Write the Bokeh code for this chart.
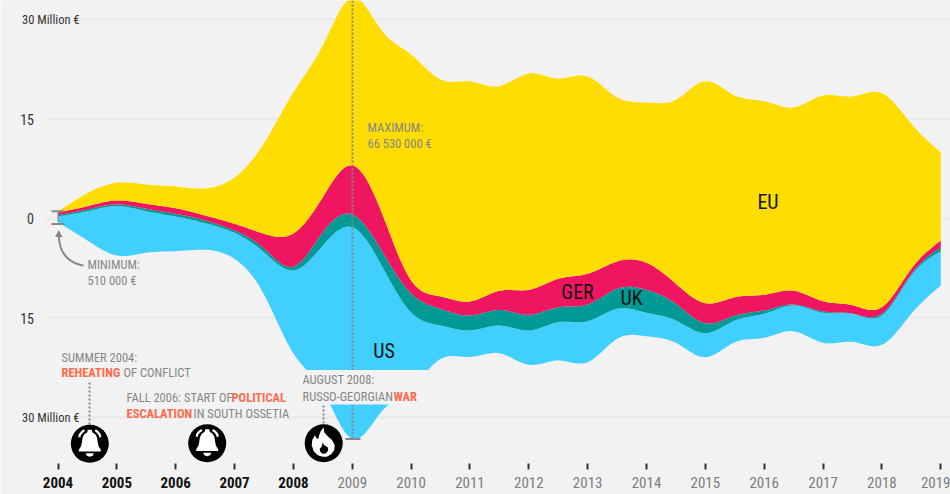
from bokeh.plotting import figure
from bokeh.embed import file_html
from bokeh.resources import INLINE
from bokeh.core.properties import value
from bokeh.models import FixedTicker, LinearAxis
import numpy as np

W, H = 950, 494
X0, PX_YEAR = 57.5, 58.85
Y0, PX_M = 218.0, 6.63
AXIS_PY = 469

years = [2004 + i * 0.5 for i in range(31)]
baseline = [-0.60,-3.32,-5.58,-5.17,-4.93,-4.72,-6.08,-11.46,-20.36,-25.94,-33.26,-29.11,-25.64,-21.19,-20.89,-20.32,
            -22.07,-21.42,-21.67,-18.14,-17.75,-18.75,-20.92,-18.66,-17.99,-17.00,-18.75,-18.60,-19.05,-14.37,-10.11]
us = [0.90,4.42,7.44,6.27,5.23,4.01,3.92,6.38,12.52,21.87,31.95,22.02,11.46,5.05,4.00,4.18,
      5.17,5.78,6.18,4.52,3.53,3.36,3.62,3.27,3.62,3.88,4.52,4.22,4.42,5.78,5.17]
uk = [0.23,0.26,0.26,0.36,0.41,0.41,0.35,0.56,0.60,2.01,1.92,2.26,2.87,2.52,2.26,2.34,
      2.37,2.26,2.52,3.02,3.47,2.52,1.51,0.75,0.50,0.15,0.20,0.05,0.26,0.26,0.60]
ger = [0.38,0.50,0.60,0.75,0.84,0.75,1.01,2.22,4.98,5.28,7.39,5.73,1.96,1.86,2.11,2.90,
       3.77,4.28,4.63,4.12,4.07,3.02,3.02,2.76,2.37,2.07,1.55,1.25,1.00,0.75,1.01]
eu = [0.15,1.96,2.67,2.91,3.27,4.07,6.98,13.62,21.27,22.88,25.34,27.45,34.09,32.73,33.18,30.86,
      32.62,30.21,29.76,24.74,24.18,27.75,33.48,30.42,29.20,27.65,31.03,31.48,32.28,21.87,13.32]
bold_years = [2004, 2005, 2006, 2007, 2008]
plain_years = [2009, 2010, 2011, 2012, 2013, 2014, 2015, 2016, 2017, 2018, 2019]
grid_values = [30, 15, 0, -15, -30]

BG = "#f2f2f2"
FONT = "Roboto Condensed"
GREY = "#878787"
HOT = "#ff6b4a"


def xp(px):
    return 2004 + (np.asarray(px, dtype=float) - X0) / PX_YEAR


def yp(py):
    return (Y0 - np.asarray(py, dtype=float)) / PX_M


def smooth(xs, ys, n=14):
    """Natural cubic spline through the read values, for the stream's rounded outline."""
    xs, ys = np.asarray(xs, dtype=float), np.asarray(ys, dtype=float)
    m = len(xs)
    h = np.diff(xs)
    A = np.zeros((m, m))
    b = np.zeros(m)
    A[0, 0] = A[-1, -1] = 1
    for i in range(1, m - 1):
        A[i, i - 1], A[i, i], A[i, i + 1] = h[i - 1], 2 * (h[i - 1] + h[i]), h[i]
        b[i] = 6 * ((ys[i + 1] - ys[i]) / h[i] - (ys[i] - ys[i - 1]) / h[i - 1])
    M = np.linalg.solve(A, b)
    ox, oy = [], []
    for i in range(m - 1):
        t = np.linspace(0, 1, n, endpoint=False)
        u = 1 - t
        oy.append(u * ys[i] + t * ys[i + 1] + ((u ** 3 - u) * M[i] + (t ** 3 - t) * M[i + 1]) * h[i] ** 2 / 6)
        ox.append(xs[i] + h[i] * t)
    return np.r_[np.concatenate(ox), xs[-1]], np.r_[np.concatenate(oy), ys[-1]]


p = figure(width=W, height=H, x_range=(float(xp(0)), float(xp(W))),
           y_range=(float(yp(H)), float(yp(0))),
           output_backend="svg", toolbar_location=None,
           min_border=0, x_axis_location=None, y_axis_location=None,
           background_fill_color=BG, border_fill_color=BG,
           styles={"position": "absolute", "left": "0px", "top": "0px"})
p.outline_line_color = None
p.grid.visible = False

# two year axes, fixed inside the frame: the war-era years stand out in bold black
for ticks, col, style in [(bold_years, "#111111", "bold"), (plain_years, "#7d7d7d", "normal")]:
    ax = LinearAxis(ticker=FixedTicker(ticks=ticks), fixed_location=float(yp(AXIS_PY)))
    ax.major_label_overrides = {y: str(y) for y in ticks}
    ax.axis_line_color = None
    ax.major_tick_in = 6
    ax.major_tick_out = 0
    ax.minor_tick_line_color = None
    ax.major_tick_line_color = "#333333"
    ax.major_tick_line_width = 2
    ax.major_label_standoff = 7
    ax.major_label_text_font = FONT
    ax.major_label_text_font_size = "15px"
    ax.major_label_text_font_style = style
    ax.major_label_text_color = col
    p.add_layout(ax, "below")

# grid lines (the 30-million ones start after their longer labels)
for v in grid_values:
    start = 75 if abs(v) == 30 else 45
    p.segment(x0=[float(xp(start))], y0=[v], x1=[float(xp(W))], y1=[v], line_color="#ebebeb", line_width=3)

# the stream
edge0 = np.array(baseline)
sx, s0 = smooth(years, edge0)
for vals, col in [(us, "#40cfff"), (uk, "#009993"), (ger, "#ef1560"), (eu, "#ffdd00")]:
    edge1 = edge0 + np.array(vals)
    _, s1 = smooth(years, edge1)
    s1 = np.maximum(s1, s0)
    p.varea(x=sx, y1=s0, y2=s1, fill_color=col)
    edge0, s0 = edge1, s1


def txt(px, py, s, color=GREY, size=12.5, style="normal", align="left"):
    p.text(x=[float(xp(px))], y=[float(yp(py))], text=[s], text_color=color,
           text_font=value(FONT), text_font_size=f"{size}px", text_font_style=style,
           text_align=align, text_baseline="middle")


def seg(x0, y0, x1, y1, color=GREY, width=2, dash="solid"):
    p.line(x=xp([x0, x1]), y=yp([y0, y1]), line_color=color, line_width=width, line_dash=dash)


# max / min markers
seg(352, 0, 352, 438, dash="2 2")
seg(345, 438.5, 360, 438.5)
seg(51, 210.7, 64, 210.7)
seg(51, 223.5, 64, 223.5)
seg(57.5, 212, 57.5, 222, dash="1 1")

# arrow to the minimum
t = np.linspace(0, 1, 30)
ax_x = (1 - t) ** 3 * 83 + 3 * (1 - t) ** 2 * t * 66 + 3 * (1 - t) * t ** 2 * 58 + t ** 3 * 58.5
ax_y = (1 - t) ** 3 * 265 + 3 * (1 - t) ** 2 * t * 262 + 3 * (1 - t) * t ** 2 * 250 + t ** 3 * 234
p.line(x=xp(ax_x), y=yp(ax_y), line_color=GREY, line_width=2)
p.patch(x=xp([58.3, 54.5, 62]), y=yp([229.5, 236.5, 236.5]), fill_color=GREY, line_color=None)

# panel that interrupts the stream behind the August 2008 note
p.quad(left=[float(xp(296))], right=[float(xp(432))], top=[float(yp(369.5))], bottom=[float(yp(404))],
       fill_color=BG, line_color=None)

# leader lines
seg(89, 382, 89, 424, dash="2 2")
seg(323, 405, 323, 424, dash="2 2")

# axis text
for v, py in zip([15, 0, -15], [119, 218, 318]):
    txt(33.5, py, str(abs(v)), color="#333333", size=14, align="right")
txt(21.5, 19, "30 Million €", color="#333333", size=12.5)
txt(21.5, 417, "30 Million €", color="#333333", size=12.5)

# series names
txt(767.5, 201, "EU", color="#111111", size=20, align="center")
txt(577, 291, "GER", color="#111111", size=20, align="center")
txt(631, 297, "UK", color="#111111", size=20, align="center")
txt(383.5, 350, "US", color="#111111", size=20, align="center")

# notes
txt(367, 127, "MAXIMUM:")
txt(367, 143, "66 530 000 €")
txt(87, 264, "MINIMUM:")
txt(87, 280, "510 000 €")
txt(61, 357, "SUMMER 2004:")
txt(61, 372, "REHEATING", color=HOT, style="bold")
txt(123, 372, "OF CONFLICT")
txt(126, 397, "FALL 2006: START OF")
txt(231, 397, "POLITICAL", color=HOT, style="bold")
txt(126, 413, "ESCALATION", color=HOT, style="bold")
txt(193, 413, "IN SOUTH OSSETIA")
txt(302, 379, "AUGUST 2008:")
txt(302, 396, "RUSSO-GEORGIAN")
txt(393, 396, "WAR", color=HOT, style="bold")

# icons
bell = [(-2, -14), (2, -14), (2.5, -11.5), (5.5, -9.5), (7.3, -6), (8, -1), (8.8, 2.5), (11, 6), (11, 7.8),
        (-11, 7.8), (-11, 6), (-8.8, 2.5), (-8, -1), (-7.3, -6), (-5.5, -9.5), (-2.5, -11.5)]
clapper = [(-4, 9.5), (4, 9.5), (3, 12), (0, 13), (-3, 12)]
arc_l = [(-10.5, -6.5), (-10, -9), (-8, -11.5), (-5.5, -13.5)]
arc_r = [(-a, b) for a, b in arc_l]
flame = [(-1, 13.5), (-6, 12), (-10, 8), (-12, 2), (-11.5, -3), (-9, -8), (-7.5, -5.5), (-5.5, -4), (-4.5, -8),
         (-3, -12), (0, -16), (0.5, -11), (4, -7), (8.5, -3), (11, 2), (10.5, 7), (7.5, 11), (3, 13.5)]
flame_in = [(-1, -1), (0.5, 2), (4, 4), (4.5, 7), (2.5, 10), (-1, 10.5), (-3.5, 8.5), (-4, 5.5), (-2.5, 4), (-1.5, 2)]


def shape(cx, cy, pts, color):
    a = np.array(pts, dtype=float)
    p.patch(x=xp(cx + a[:, 0]), y=yp(cy + a[:, 1]), fill_color=color, line_color=None)


for cx, cy, kind in [(89.3, 443.2, "bell"), (206.7, 442.8, "bell"), (323.2, 442.8, "flame")]:
    p.scatter(x=[float(xp(cx))], y=[float(yp(cy))], size=38, marker="circle", fill_color="#000000", line_color=None)
    if kind == "bell":
        shape(cx, cy, bell, "#ffffff")
        shape(cx, cy, clapper, "#ffffff")
        for arc in (arc_l, arc_r):
            a = np.array(arc)
            p.line(x=xp(cx + a[:, 0]), y=yp(cy + a[:, 1]), line_color="#ffffff", line_width=2.2)
    else:
        shape(cx, cy, flame, "#ffffff")
        shape(cx, cy, flame_in, "#000000")

open("out.html", "w").write(file_html(p, INLINE))
